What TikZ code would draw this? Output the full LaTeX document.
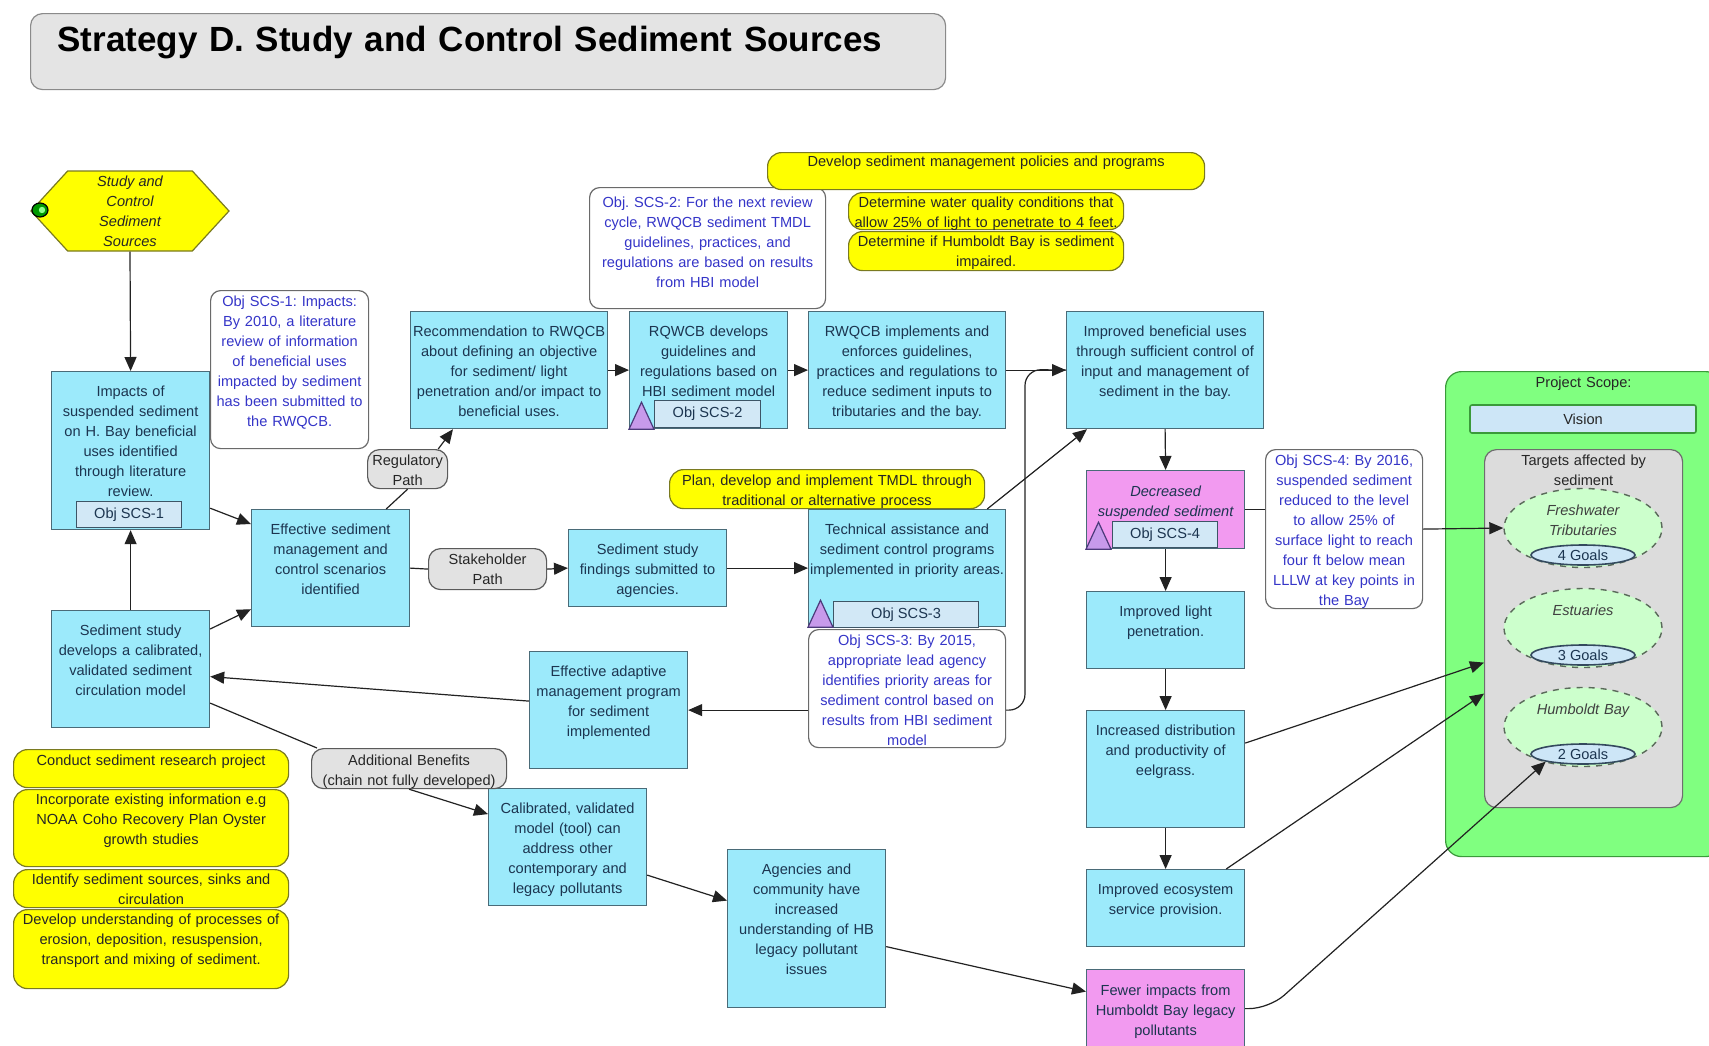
\documentclass[tikz,border=0pt]{standalone}
\usepackage{fontspec}
\setmainfont{Liberation Sans}
\usetikzlibrary{arrows.meta,shapes.geometric,shapes.symbols}
\frenchspacing
\definecolor{boxfill}{HTML}{9CEAFB}
\definecolor{boxline}{HTML}{4A6B78}
\definecolor{boxtext}{HTML}{1C3550}
\definecolor{magfill}{HTML}{F29AF0}
\definecolor{subfill}{HTML}{D2E8F6}
\definecolor{subline}{HTML}{3D5566}
\definecolor{trifill}{HTML}{C79AEB}
\definecolor{triline}{HTML}{4B3A7A}
\definecolor{calline}{HTML}{6A6A6A}
\definecolor{caltext}{HTML}{3535C8}
\definecolor{pathfill}{HTML}{E2E2E2}
\definecolor{pathline}{HTML}{5A5A5A}
\definecolor{taskfill}{HTML}{FFFF00}
\definecolor{taskline}{HTML}{7A7A20}
\definecolor{scopefill}{HTML}{80FF80}
\definecolor{scopeline}{HTML}{3A9A3A}
\definecolor{tgfill}{HTML}{DCDCDC}
\definecolor{tgline}{HTML}{6E6E6E}
\definecolor{zonefill}{HTML}{CCFFCC}
\definecolor{zoneline}{HTML}{5A6A5A}
\definecolor{goalfill}{HTML}{CDE6F7}
\definecolor{goalline}{HTML}{34495E}
\definecolor{titlefill}{HTML}{E4E4E4}
\definecolor{titleline}{HTML}{8A8A8A}
\definecolor{linecol}{HTML}{222222}
\begin{document}
\begin{tikzpicture}[x=0.5pt,y=-0.5pt,
    every node/.style={font=\fontsize{7.3}{10}\selectfont, inner sep=0pt, align=center},
    box/.style={draw=boxline, fill=boxfill, text=boxtext, line width=0.6pt, anchor=north west, text height=12.5pt},
    magbox/.style={box, fill=magfill},
    wide/.style={text width=98.5pt},
    slim/.style={text width=79pt},
    tall/.style={text depth=66.5pt},
    mid/.style={text depth=46pt},
    low/.style={text depth=26pt},
    subobj/.style={draw=subline, fill=subfill, text=boxtext, line width=0.6pt, anchor=south west, minimum height=13pt, minimum width=52.5pt},
    tri/.style={draw=triline, fill=trifill, line width=0.6pt},
    callout/.style={draw=calline, fill=white, text=caltext, line width=0.6pt, rounded corners=5pt, anchor=north west},
    pathnode/.style={draw=pathline, fill=pathfill, text=black!85, line width=0.6pt, rounded corners=6pt, anchor=north west},
    task/.style={draw=taskline, fill=taskfill, text=black!85, line width=0.6pt, rounded corners=7pt, anchor=north west, text width=137.5pt},
    hexa/.style={signal, signal to=east and west, signal pointer angle=95, draw=taskline, fill=taskfill, text=black!85, line width=0.6pt, font=\fontsize{7.3}{10}\selectfont\itshape, minimum width=99pt, minimum height=40pt},
    titlebox/.style={draw=titleline, fill=titlefill, line width=0.6pt, rounded corners=6pt, anchor=north west, font=\fontsize{17.5}{20}\selectfont\bfseries, align=left, text width=430.5pt, inner xsep=13.5pt, text height=19pt, text depth=19pt},
    scope/.style={draw=scopeline, fill=scopefill, text=black!85, line width=0.6pt, rounded corners=8pt, anchor=north west, text width=138pt, text height=7.75pt, text depth=234.75pt},
    vision/.style={draw=scopeline, fill=goalfill, text=black!85, line width=0.8pt, rounded corners=1pt, minimum width=113pt, minimum height=14pt},
    targets/.style={draw=tgline, fill=tgfill, text=black!85, line width=0.6pt, rounded corners=6pt, anchor=north west, text width=99pt, text height=8pt, text depth=171pt},
    zone/.style={ellipse, draw=zoneline, dashed, fill=zonefill, text=black!75, line width=0.7pt, font=\fontsize{7.3}{10}\selectfont\itshape, text width=50pt, minimum width=79pt, minimum height=39.5pt, text height=6.5pt, text depth=19pt},
    goal/.style={ellipse, draw=goalline, fill=goalfill, text=boxtext, line width=0.8pt, minimum width=52pt, minimum height=10pt},
    link/.style={draw=linecol, line width=0.6pt},
    arr/.style={link, -{Triangle[length=7pt,width=6pt]}}]
    \useasboundingbox (0,0) rectangle (1709,1045);
    \clip (0,0) rectangle (1709,1045);
    \fill[white] (0,0) rectangle (1709,1045);

    \node[titlebox] (title) at (30,13) {Strategy D. Study and Control Sediment Sources};

    \node[hexa] (hex) at (130,211) {Study and\\Control\\Sediment\\Sources};
    \filldraw[draw=black, line width=0.6pt, fill=green!60!black] (40,210) ellipse (4pt and 3.5pt);
    \fill[green!45] (42,210) circle (1.6pt);

    \node[box, slim, tall] (b1) at (51,371) {Impacts of\\suspended sediment\\on H. Bay beneficial\\uses identified\\through literature\\review.};
    \node[subobj] (o1) at (76,528) {Obj SCS-1};
    \node[box, slim, mid] (b2) at (251,509) {Effective sediment\\management and\\control scenarios\\identified};
    \node[box, slim, mid] (b3) at (51,610) {Sediment study\\develops a calibrated,\\validated sediment\\circulation model};
    \node[box, wide, mid] (b4) at (410,311) {Recommendation to RWQCB\\about defining an objective\\for sediment/ light\\penetration and/or impact to\\beneficial uses.};
    \node[box, slim, mid] (b5) at (629,311) {RQWCB develops\\guidelines and\\regulations based on\\HBI sediment model};
    \node[subobj, minimum height=13.5pt, minimum width=53pt] (o2) at (654,428) {Obj SCS-2};
    \draw[tri] (b5.south west) -- ++(12.5,-27) -- ++(12.5,27) -- cycle;
    \node[box, wide, mid] (b6) at (808,311) {RWQCB implements and\\enforces guidelines,\\practices and regulations to\\reduce sediment inputs to\\tributaries and the bay.};
    \node[box, wide, mid] (b7) at (1066,311) {Improved beneficial uses\\through sufficient control of\\input and management of\\sediment in the bay.};
    \node[box, slim, low] (b8) at (568,529) {Sediment study\\findings submitted to\\agencies.};
    \node[box, wide, mid] (b9) at (808,509) {Technical assistance and\\sediment control programs\\implemented in priority areas.};
    \node[subobj, minimum width=72.5pt] (o3) at (833,628) {Obj SCS-3};
    \draw[tri] (b9.south west) -- ++(12.5,-27) -- ++(12.5,27) -- cycle;
    \node[box, slim, mid] (b10) at (529,651) {Effective adaptive\\management program\\for sediment\\implemented};
    \node[box, slim, mid] (b11) at (488,788) {Calibrated, validated\\model (tool) can\\address other\\contemporary and\\legacy pollutants};
    \node[box, slim, tall] (b12) at (727,849) {Agencies and\\community have\\increased\\understanding of HB\\legacy pollutant\\issues};

    \node[magbox, slim, low, font=\fontsize{7.3}{10}\selectfont\itshape, text height=13pt] (b13) at (1086,470) {Decreased\\suspended sediment};
    \node[subobj] (o4) at (1112,548) {Obj SCS-4};
    \draw[tri] (b13.south west) -- ++(12.5,-27) -- ++(12.5,27) -- cycle;
    \node[box, slim, low] (b14) at (1086,591) {Improved light\\penetration.};
    \node[box, slim, mid] (b15) at (1086,710) {Increased distribution\\and productivity of\\eelgrass.};
    \node[box, slim, low] (b16) at (1086,869) {Improved ecosystem\\service provision.};
    \node[magbox, slim, low, text height=13pt] (b17) at (1086,969) {Fewer impacts from\\Humboldt Bay legacy\\pollutants};

    \node[callout, text width=79pt, text height=8pt, text depth=71pt] (c1) at (210,290) {Obj SCS-1: Impacts:\\By 2010, a literature\\review of information\\of beneficial uses\\impacted by sediment\\has been submitted to\\the RWQCB.};
    \node[callout, text width=118pt, text height=10pt, text depth=50.5pt] (c2) at (589,187) {Obj. SCS-2: For the next review\\cycle, RWQCB sediment TMDL\\guidelines, practices, and\\regulations are based on results\\from HBI model};
    \node[callout, text width=98.5pt, text height=8pt, text depth=51pt] (c3) at (808,629) {Obj SCS-3: By 2015,\\appropriate lead agency\\identifies priority areas for\\sediment control based on\\results from HBI sediment\\model};
    \node[callout, text width=78.5pt, text height=8pt, text depth=71.5pt] (c4) at (1265,449) {Obj SCS-4: By 2016,\\suspended sediment\\reduced to the level\\to allow 25\% of\\surface light to reach\\four ft below mean\\LLLW at key points in\\the Bay};

    \node[pathnode, text width=40pt, text height=8pt, text depth=11.5pt] (reg) at (367,449) {Regulatory\\Path};
    \node[pathnode, text width=59pt, text height=8pt, text depth=12.5pt] (stake) at (428,548) {Stakeholder\\Path};
    \node[pathnode, text width=97.5pt, text height=8.5pt, text depth=11.5pt] (ab) at (311,748) {Additional Benefits\\(chain not fully developed)};

    \node[task, text width=218.5pt, text height=7pt, text depth=11.5pt] (y1) at (767,152) {Develop sediment management policies and programs};
    \node[task, text height=7.5pt, text depth=11pt] (y2) at (848,192) {Determine water quality conditions that\\allow 25\% of light to penetrate to 4 feet.};
    \node[task, text height=7.5pt, text depth=12pt] (y3) at (848,231) {Determine if Humboldt Bay is sediment\\impaired.};
    \node[task, text width=157.5pt, text height=8pt, text depth=11.5pt] (y4) at (669,469) {Plan, develop and implement TMDL through\\traditional or alternative process};
    \node[task, text height=8pt, text depth=11pt] (y5) at (13,749) {Conduct sediment research project};
    \node[task, text height=7.5pt, text depth=31pt] (y6) at (13,789) {Incorporate existing information e.g\\NOAA Coho Recovery Plan Oyster\\growth studies};
    \node[task, text height=7.5pt, text depth=11.5pt] (y7) at (13,869) {Identify sediment sources, sinks and\\circulation};
    \node[task, text height=7.5pt, text depth=32pt] (y8) at (13,909) {Develop understanding of processes of\\erosion, deposition, resuspension,\\transport and mixing of sediment.};

    \node[scope] (ps) at (1445,371) {Project Scope:};
    \node[vision] (vis) at (1583,419) {Vision};
    \node[targets] (tg) at (1484,449) {Targets affected by\\sediment};
    \node[zone] (fw) at (1583,528) {Freshwater\\Tributaries};
    \node[goal] (g4) at (1583,555) {4 Goals};
    \node[zone] (es) at (1583,628) {Estuaries};
    \node[goal] (g3) at (1583,655) {3 Goals};
    \node[zone] (hb) at (1583,727) {Humboldt Bay};
    \node[goal] (g2) at (1583,754) {2 Goals};

    \coordinate (turn) at (1025,369.5);
    \draw[arr] (hex.south) -- (b1.north);
    \draw[arr] (b3.north) -- (b1.south);
    \draw[arr] ([yshift=11pt]b1.south east) -- ([yshift=-7.5pt]b2.north west);
    \draw[arr] ([yshift=-9.5pt]b3.north east) -- ([yshift=9pt]b2.south west);
    \draw[link] ([xshift=-12pt]b2.north east) -- (reg.south);
    \draw[arr] ([xshift=-5pt]reg.north east) -- ([xshift=21.5pt]b4.south west);
    \draw[link] (b2.east) -- (stake.west);
    \draw[arr] (stake.east) -- (b8.west);
    \draw[arr] (b8.east) -- (b9.west);
    \draw[arr] (b4.east) -- (b5.west);
    \draw[arr] (b5.east) -- (b6.west);
    \draw[arr] (b6.east) -- (b7.west);
    \draw[link, rounded corners=8pt] (b10.east -| c3.east) -| (turn) -- (b7.west);
    \draw[arr] ([xshift=-9.5pt]b9.north east) -- ([xshift=10.5pt]b7.south west);
    \draw[arr] (b10.east -| c3.west) -- (b10.east);
    \draw[arr] ([yshift=4.5pt]b10.west) -- ([yshift=-3.75pt]b3.east);
    \draw[link] ([yshift=-17pt]b3.east) -- ([xshift=3pt]ab.north west);
    \draw[arr] (ab.south) -- ([yshift=16.5pt]b11.west);
    \draw[arr] ([yshift=-14pt]b11.east) -- ([yshift=14pt]b12.west);
    \draw[arr] ([yshift=-9pt]b12.east) -- ([yshift=8.5pt]b17.west);
    \draw[arr] (b7.south) -- (b13.north);
    \draw[arr] (b13.south) -- (b14.north);
    \draw[arr] (b14.south) -- (b15.north);
    \draw[arr] (b15.south) -- (b16.north);
    \draw[link] (b13.east) -- (b13.east -| c4.west);
    \draw[arr] (c4.east) -- (fw.west);
    \draw[arr] ([yshift=13pt]b15.east) -- ([yshift=-17pt]tg.west);
    \draw[arr] ([xshift=-9.5pt]b16.north east) -- ([yshift=-32.5pt]tg.west);
    \draw[arr, rounded corners=10pt] (b17.east) -- ++(24,0) -- (g2.south west);
\end{tikzpicture}
\end{document}
